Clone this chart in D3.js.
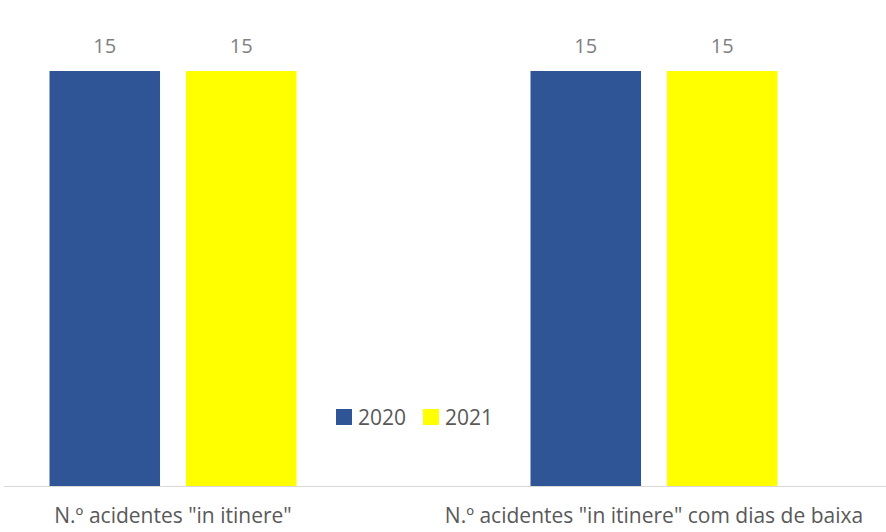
<!DOCTYPE html>
<html>
<head>
<meta charset="utf-8">
<script src="https://cdn.jsdelivr.net/npm/d3@7"></script>
<style>
  body { margin: 0; background: #fff; }
  svg text { font-family: "Open Sans", sans-serif; }
</style>
</head>
<body>
<svg id="chart"></svg>
<script>
const categories = ['N.º acidentes "in itinere"', 'N.º acidentes "in itinere" com dias de baixa'];
const seriesNames = ["2020", "2021"];
const values2020 = [15, 15];
const values2021 = [15, 15];

const colors = { "2020": "#2F5597", "2021": "#FFFF00" };

const svgWidth = 886;
const svgHeight = 532;
const baseY = 486;

const svg = d3.select("#chart")
    .attr("width", svgWidth)
    .attr("height", svgHeight);

const x0 = d3.scaleBand()
    .domain(categories)
    .range([-67.5, 894.5])
    .padding(0);

const x1 = d3.scaleBand()
    .domain(seriesNames)
    .range([0, 247])
    .paddingInner(0.19)
    .paddingOuter(0);

const y = d3.scaleLinear()
    .domain([0, 15])
    .range([baseY, 71]);

const rows = categories.map((c, i) => ({
    category: c,
    values: [
        { key: "2020", value: values2020[i] },
        { key: "2021", value: values2021[i] }
    ]
}));

// axis line
svg.append("line")
    .attr("x1", 4).attr("x2", svgWidth)
    .attr("y1", baseY + 0.5).attr("y2", baseY + 0.5)
    .attr("stroke", "#d9d9d9")
    .attr("stroke-width", 1);

const groups = svg.selectAll(".group")
    .data(rows)
    .enter()
    .append("g")
    .attr("class", "group")
    .attr("transform", d => `translate(${x0(d.category) + x0.bandwidth() / 2 - 123.5}, 0)`);

groups.selectAll("rect")
    .data(d => d.values)
    .enter()
    .append("rect")
    .attr("x", d => x1(d.key))
    .attr("y", d => y(d.value))
    .attr("width", x1.bandwidth())
    .attr("height", d => baseY - y(d.value))
    .attr("fill", d => colors[d.key]);

groups.selectAll(".label")
    .data(d => d.values)
    .enter()
    .append("text")
    .attr("class", "label")
    .attr("x", d => x1(d.key) + x1.bandwidth() / 2)
    .attr("y", d => y(d.value) - 18)
    .attr("text-anchor", "middle")
    .attr("font-size", 20)
    .attr("fill", "#7f7f7f")
    .text(d => d.value);

// category labels
svg.selectAll(".cat")
    .data(categories)
    .enter()
    .append("text")
    .attr("class", "cat")
    .attr("x", d => x0(d) + x0.bandwidth() / 2)
    .attr("y", 523)
    .attr("text-anchor", "middle")
    .attr("font-size", 21)
    .attr("fill", "#595959")
    .text(d => d);

// legend
const legend = svg.append("g").attr("transform", "translate(336, 409)");
const legendX = [0, 87];
seriesNames.forEach((s, i) => {
    const g = legend.append("g").attr("transform", `translate(${legendX[i]}, 0)`);
    g.append("rect")
        .attr("width", 16).attr("height", 16)
        .attr("fill", colors[s]);
    g.append("text")
        .attr("x", 22)
        .attr("y", 16)
        .attr("font-size", 21)
        .attr("fill", "#595959")
        .text(s);
});
</script>
</body>
</html>
